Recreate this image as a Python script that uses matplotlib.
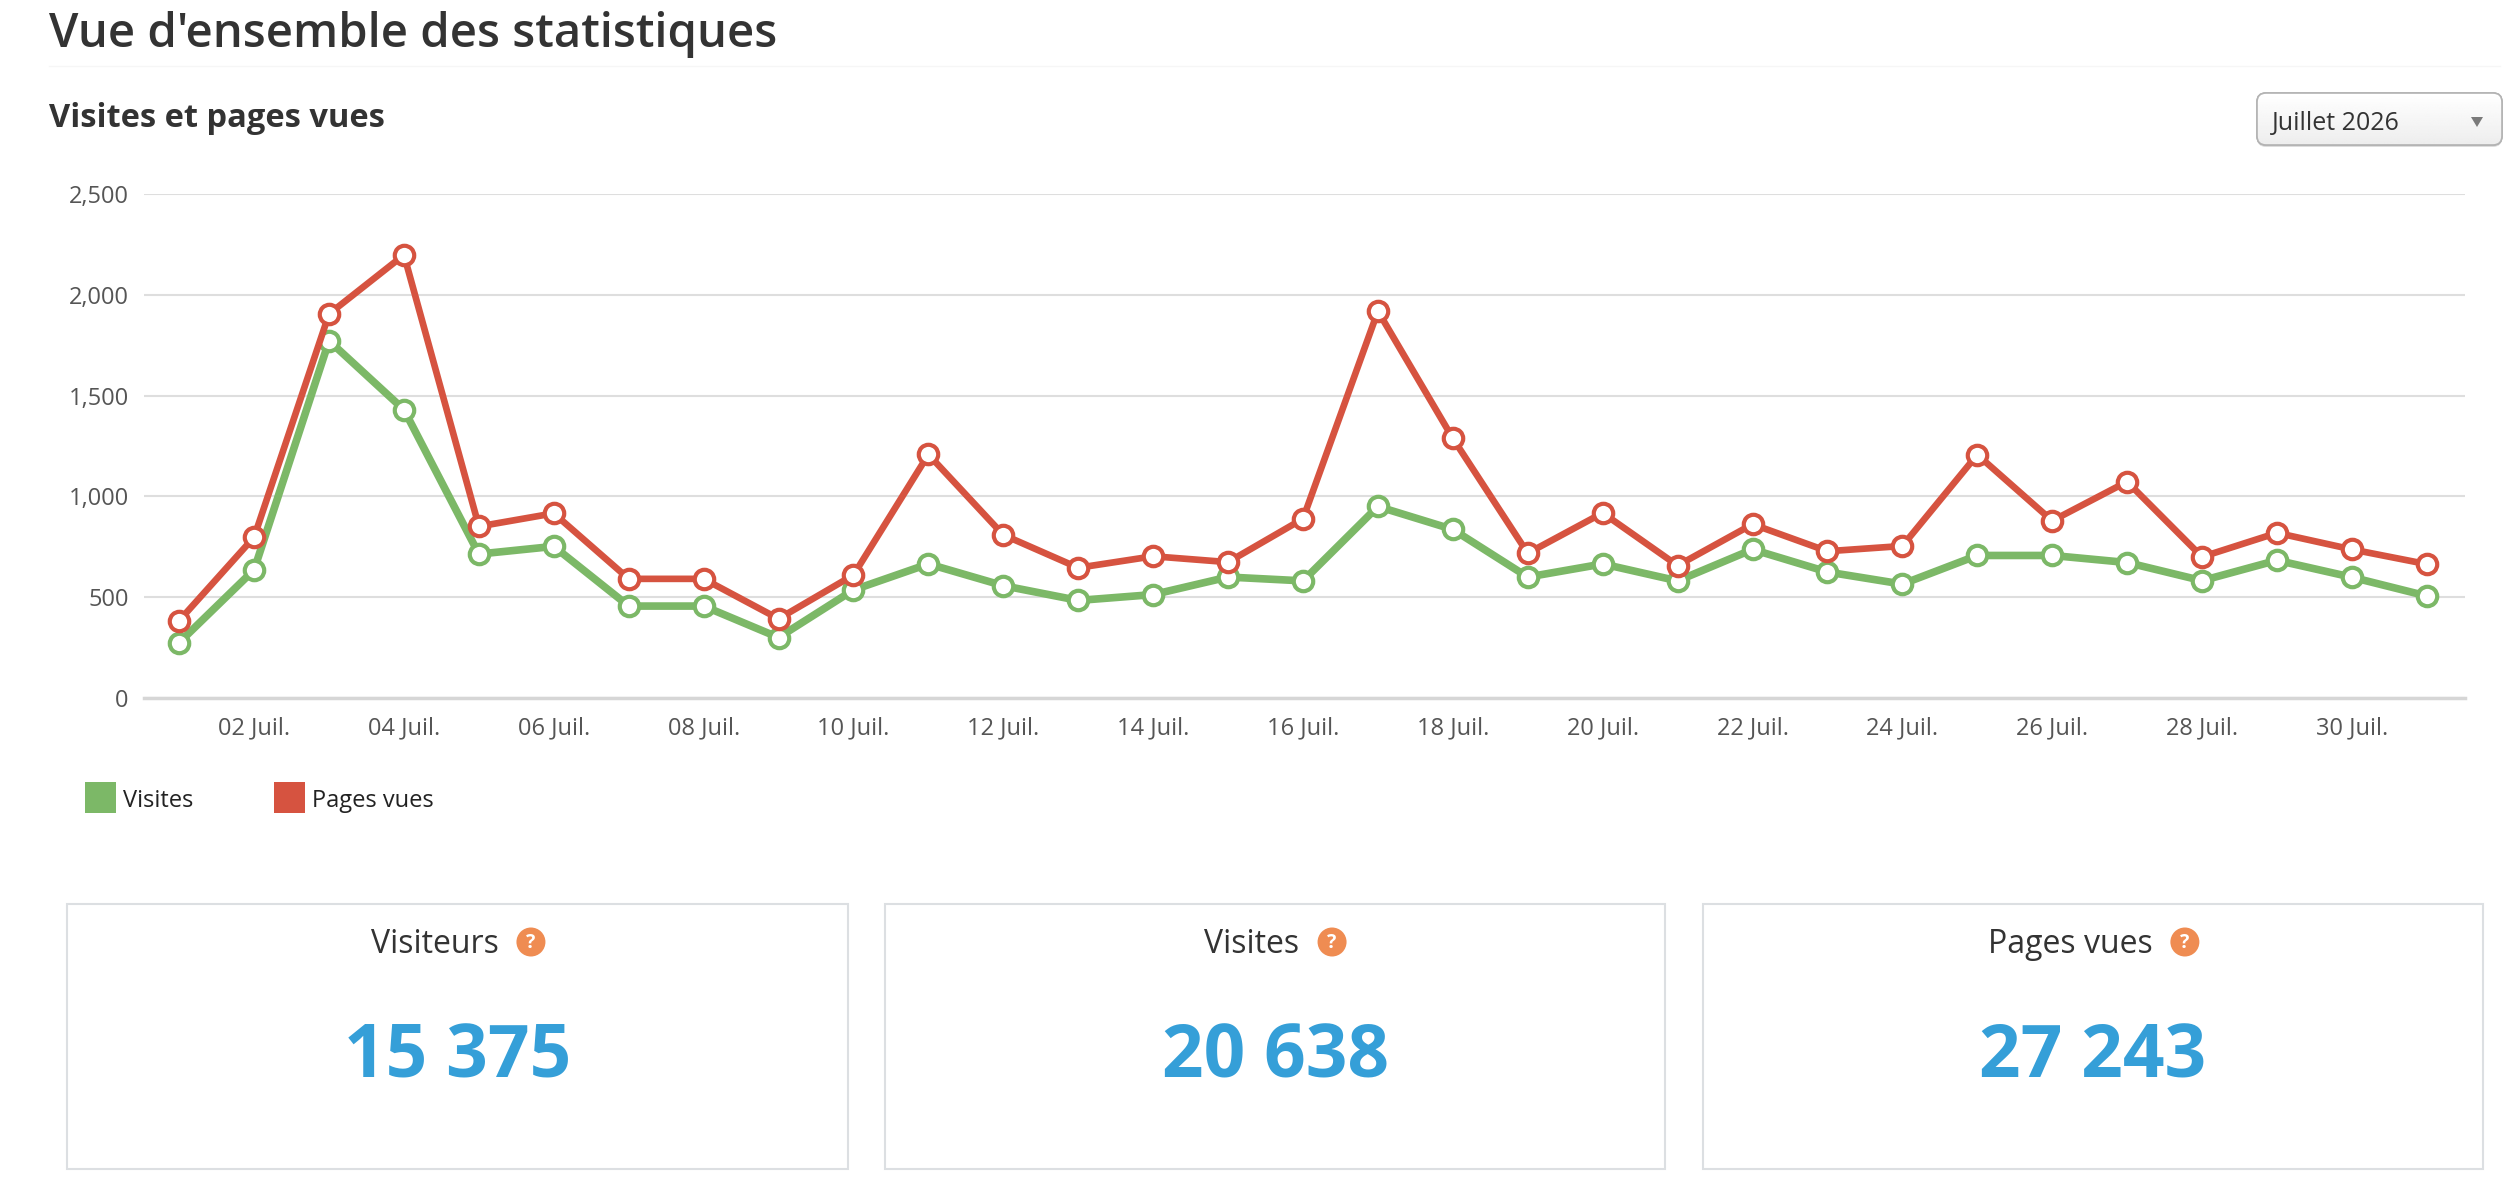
import matplotlib
matplotlib.use("Agg")
import matplotlib.pyplot as plt
from matplotlib.patches import Rectangle, FancyBboxPatch, Circle, Polygon
from matplotlib.ticker import FuncFormatter
import numpy as np

plt.rcParams['font.family'] = ['Open Sans', 'DejaVu Sans']

# data
days = list(range(1, 32))
visites = [275, 636, 1772, 1430, 714, 752, 456, 456, 300, 536,
           665, 557, 484, 513, 600, 581, 950, 836, 600, 665,
           581, 737, 625, 565, 707, 707, 672, 582, 683, 599, 506]
pages_vues = [384, 798, 1905, 2198, 851, 916, 591, 591, 393, 610,
              1208, 809, 646, 703, 674, 889, 1919, 1288, 718, 918,
              657, 862, 728, 754, 1207, 879, 1073, 700, 819, 737, 664]
series_names = ['Visites', 'Pages vues']
y_ticks = [0, 500, 1000, 1500, 2000, 2500]
tick_days = list(range(2, 31, 2))
tick_labels = ['%02d Juil.' % d for d in tick_days]
card_titles = ['Visiteurs', 'Visites', 'Pages vues']
card_values = [15375, 20638, 27243]
month_label = 'Juillet 2026'

GREEN = '#7cb867'
RED = '#d65340'
BLUE = '#359fd8'
ORANGE = '#ef8c52'
TXT = '#333333'

W, H = 2510, 1178
fig = plt.figure(figsize=(W / 100, H / 100), dpi=100)
fig.patch.set_facecolor('white')

# overlay in pixel coords for the page chrome
ov = fig.add_axes([0, 0, 1, 1], zorder=0)
ov.set_xlim(0, W)
ov.set_ylim(H, 0)
ov.axis('off')

ov.text(49, 47, "Vue d'ensemble des statistiques", fontsize=34, fontweight='semibold',
        color=TXT, va='baseline', ha='left')
ov.plot([49, 2500], [66, 66], color='#f6f6f6', lw=1)
ov.text(49, 127, "Visites et pages vues", fontsize=23.5, fontweight='bold',
        color=TXT, va='baseline', ha='left')

# dropdown
box = FancyBboxPatch((2257, 93), 245, 52, boxstyle='round,pad=0,rounding_size=9',
                     fc='#f4f4f4', ec='#b3b3b3', lw=1.2, zorder=3)
shadow = FancyBboxPatch((2257, 95), 245, 52, boxstyle='round,pad=0,rounding_size=9',
                        fc='#dddddd', ec='none', zorder=2)
ov.add_patch(shadow)
ov.add_patch(box)
grad = np.linspace(1.0, 0.93, 50).reshape(-1, 1)
im = ov.imshow(grad, cmap='gray', vmin=0, vmax=1, extent=[2257, 2502, 145, 93],
               aspect='auto', zorder=3.5)
im.set_clip_path(box)
ov.add_patch(FancyBboxPatch((2257, 93), 245, 52, boxstyle='round,pad=0,rounding_size=9',
                            fc='none', ec='#b3b3b3', lw=1.2, zorder=4))
ov.set_xlim(0, W)
ov.set_ylim(H, 0)
ov.text(2272, 130, month_label, fontsize=18, color=TXT, va='baseline', ha='left', zorder=5)
ov.add_patch(Polygon([(2471, 117), (2483, 117), (2477, 127)], closed=True,
                     fc='#7a7a7a', ec='none', zorder=5))

# legend
for i, (name, col) in enumerate(zip(series_names, [GREEN, RED])):
    x0 = 85 + i * 189
    ov.add_patch(Rectangle((x0, 782), 31, 31, fc=col, ec='none'))
    ov.text(x0 + 38, 807, name, fontsize=17, color='#222222', va='baseline', ha='left')

# cards
card_x = [(67, 848), (885, 1665), (1703, 2483)]
title_objs = []
for (x0, x1), title, val in zip(card_x, card_titles, card_values):
    ov.add_patch(Rectangle((x0, 904), x1 - x0, 265, fc='white', ec='#dcdfe2', lw=1.5))
    cx = (x0 + x1) / 2
    t = ov.text(cx - 23, 953, title, fontsize=23, color=TXT, va='baseline', ha='center')
    title_objs.append(t)
    ov.text(cx, 1077, '{:,}'.format(val).replace(',', ' '), fontsize=52.5,
            fontweight='bold', color=BLUE, va='baseline', ha='center')

# chart
ax = fig.add_axes([144 / W, 1 - 698 / H, (2465 - 144) / W, (698 - 194) / H], zorder=1)
ax.set_facecolor('none')
ax.plot(days, visites, color=GREEN, lw=5.5, marker='o', ms=14, mfc='white',
        mec=GREEN, mew=3, clip_on=False, zorder=3)
ax.plot(days, pages_vues, color=RED, lw=4.8, marker='o', ms=14, mfc='white',
        mec=RED, mew=3, clip_on=False, zorder=4)
ax.set_xlim(0.53, 31.51)
ax.set_ylim(0, 2500)
ax.set_yticks(y_ticks)
ax.yaxis.set_major_formatter(FuncFormatter(lambda v, p: '{:,}'.format(int(v))))
ax.set_xticks(tick_days)
ax.set_xticklabels(tick_labels)
ax.tick_params(axis='both', length=0, labelsize=17, labelcolor='#555555')
ax.tick_params(axis='y', pad=11)
ax.tick_params(axis='x', pad=13)
ax.grid(axis='y', color='#dedede', lw=1.5)
ax.set_axisbelow(True)
for s in ['top', 'right', 'left']:
    ax.spines[s].set_visible(False)
ax.spines['bottom'].set_color('#d6d6d6')
ax.spines['bottom'].set_linewidth(2.5)

# help icons next to card titles
fig.canvas.draw()
r = fig.canvas.get_renderer()
inv = ov.transData.inverted()
for t in title_objs:
    bb = t.get_window_extent(r)
    xr = inv.transform((bb.x1, bb.y0))[0]
    ix = xr + 18 + 14.5
    ov.add_patch(Circle((ix, 942), 14.5, fc=ORANGE, ec='none'))
    ov.text(ix, 943, '?', fontsize=14, fontweight='bold', color='white',
            ha='center', va='center')

fig.savefig('out.png', dpi=100, facecolor='white')
